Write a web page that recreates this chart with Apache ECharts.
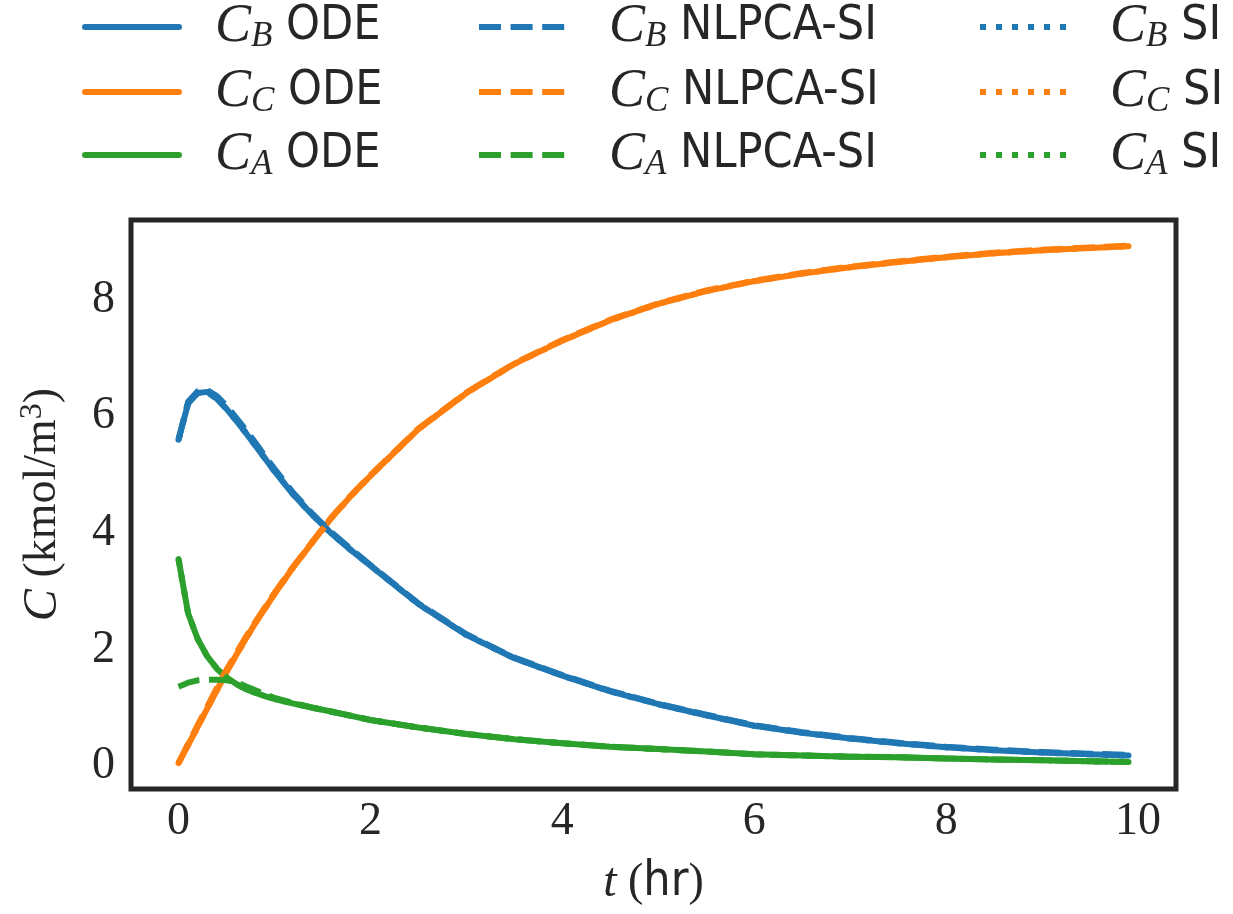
<!DOCTYPE html>
<html>
<head>
<meta charset="utf-8">
<script src="https://cdn.jsdelivr.net/npm/echarts@6/dist/echarts.min.js"></script>
<style>
html,body{margin:0;padding:0;background:#fff;}
#chart{width:1233px;height:914px;}
</style>
</head>
<body>
<div id="chart"></div>
<script>
// time grid (hr)
var tVals = [0,0.1,0.2,0.3,0.4,0.5,0.6,0.7,0.8,0.9,1.0,1.2,1.4,1.6,1.8,2.0,2.5,3.0,3.5,4.0,4.5,5.0,5.5,6.0,6.5,7.0,7.5,8.0,8.5,9.0,9.5,9.9];

// ODE
var cbOde = [5.6,6.22,6.4,6.42,6.3,6.13,5.93,5.72,5.5,5.28,5.06,4.65,4.3,3.98,3.7,3.44,2.78,2.25,1.85,1.55,1.28,1.06,0.87,0.69,0.57,0.47,0.39,0.32,0.27,0.23,0.2,0.18];
var ccOde = [0.05,0.36,0.67,0.99,1.3,1.61,1.9,2.18,2.45,2.7,2.95,3.42,3.85,4.27,4.64,4.98,5.78,6.4,6.9,7.3,7.65,7.93,8.15,8.32,8.45,8.56,8.65,8.73,8.8,8.85,8.89,8.92];
var caOde = [3.55,2.62,2.18,1.88,1.67,1.52,1.41,1.32,1.26,1.2,1.15,1.07,1.0,0.93,0.86,0.79,0.66,0.55,0.46,0.39,0.33,0.29,0.25,0.2,0.18,0.16,0.15,0.13,0.11,0.1,0.08,0.07];

// NLPCA-SI
var cbNl = [5.6,6.25,6.43,6.45,6.35,6.18,5.98,5.77,5.55,5.32,5.1,4.68,4.32,4.0,3.72,3.45,2.79,2.26,1.86,1.56,1.29,1.07,0.88,0.7,0.58,0.48,0.4,0.33,0.28,0.24,0.21,0.19];
var ccNl = [0.05,0.38,0.7,1.02,1.34,1.65,1.93,2.21,2.47,2.72,2.97,3.43,3.86,4.28,4.65,4.99,5.79,6.41,6.91,7.31,7.66,7.94,8.16,8.33,8.46,8.57,8.66,8.74,8.81,8.86,8.9,8.93];
var caNl = [1.36,1.43,1.47,1.48,1.48,1.47,1.44,1.37,1.3,1.23,1.17,1.08,1.0,0.93,0.86,0.79,0.66,0.55,0.46,0.39,0.33,0.29,0.25,0.2,0.18,0.16,0.15,0.13,0.11,0.1,0.08,0.07];

// SI (on top of the ODE curves)
var cbSi = [5.6,6.22,6.4,6.42,6.3,6.13,5.93,5.72,5.5,5.28,5.06,4.65,4.3,3.98,3.7,3.44,2.78,2.25,1.85,1.55,1.28,1.06,0.87,0.69,0.57,0.47,0.39,0.32,0.27,0.23,0.2,0.18];
var ccSi = [0.05,0.36,0.67,0.99,1.3,1.61,1.9,2.18,2.45,2.7,2.95,3.42,3.85,4.27,4.64,4.98,5.78,6.4,6.9,7.3,7.65,7.93,8.15,8.32,8.45,8.56,8.65,8.73,8.8,8.85,8.89,8.92];
var caSi = [3.55,2.62,2.18,1.88,1.67,1.52,1.41,1.32,1.26,1.2,1.15,1.07,1.0,0.93,0.86,0.79,0.66,0.55,0.46,0.39,0.33,0.29,0.25,0.2,0.18,0.16,0.15,0.13,0.11,0.1,0.08,0.07];

var xTicks = [0,2,4,6,8,10];
var yTicks = [0,2,4,6,8];

var BLUE = '#1f77b4', ORANGE = '#ff7f0e', GREEN = '#2ca02c';
var INK = '#262626';
var SERIF = "'Liberation Serif', 'DejaVu Serif', serif";
var SANS = "'Liberation Sans Narrow', 'DejaVu Sans Condensed', 'DejaVu Sans', sans-serif";
var DASH = [22, 9.6], DOT = [6, 10];

function mkLine(name, ys, color, type) {
    return {
        name: name,
        type: 'line',
        data: tVals.map(function (t, i) { return [t, ys[i]]; }),
        symbol: 'none',
        showSymbol: false,
        silent: true,
        animation: false,
        itemStyle: {color: color},
        lineStyle: {color: color, width: 6, type: type, cap: type === 'solid' ? 'round' : 'butt', join: 'round'}
    };
}

var series = [
    mkLine('C_B ODE', cbOde, BLUE, 'solid'),
    mkLine('C_C ODE', ccOde, ORANGE, 'solid'),
    mkLine('C_A ODE', caOde, GREEN, 'solid'),
    mkLine('C_B NLPCA-SI', cbNl, BLUE, DASH),
    mkLine('C_C NLPCA-SI', ccNl, ORANGE, DASH),
    mkLine('C_A NLPCA-SI', caNl, GREEN, DASH),
    mkLine('C_B SI', cbSi, BLUE, DOT),
    mkLine('C_C SI', ccSi, ORANGE, DOT),
    mkLine('C_A SI', caSi, GREEN, DOT)
];

var legendRich = {
    c: {fontFamily: SERIF, fontStyle: 'italic', fontSize: 54, lineHeight: 54, color: INK, verticalAlign: 'middle'},
    s: {fontFamily: SERIF, fontStyle: 'italic', fontSize: 35, lineHeight: 30, color: INK, verticalAlign: 'bottom'},
    t: {fontFamily: SANS, fontSize: 48, lineHeight: 54, color: INK, verticalAlign: 'middle'}
};

// one legend per entry, 3 columns x 3 rows
var colLeft = [82, 476, 977];
var rowTop = [0, 65, 128];
var legends = [];
series.forEach(function (s, i) {
    var ls = s.lineStyle;
    legends.push({
        data: [s.name],
        left: colLeft[Math.floor(i / 3)],
        top: rowTop[i % 3],
        padding: 0,
        itemWidth: 94,
        itemHeight: 54,
        selectedMode: false,
        itemStyle: {opacity: 0},
        lineStyle: {color: ls.color, width: 6, type: ls.type, cap: ls.cap, opacity: 1},
        formatter: function (name) {
            return name.replace(/^C_(\w) (.*)$/, '{c|C}{s|$1}{t| $2}');
        },
        textStyle: {padding: [0, 0, 0, 31], rich: legendRich}
    });
});

var chart = echarts.init(document.getElementById('chart'), null, {renderer: 'canvas'});
chart.setOption({
    backgroundColor: '#ffffff',
    animation: false,
    legend: legends,
    grid: {left: 131, top: 220, width: 1045, height: 569, show: true, borderColor: INK, borderWidth: 5, backgroundColor: 'transparent'},
    xAxis: {
        type: 'value',
        min: -0.495,
        max: 10.395,
        axisLine: {show: false},
        axisTick: {show: false},
        splitLine: {show: false},
        axisLabel: {customValues: xTicks, fontFamily: SERIF, fontSize: 46, color: INK, margin: 10},
        name: '{i|t} ({h|hr})',
        nameLocation: 'middle',
        nameGap: 68,
        nameTextStyle: {
            color: INK,
            rich: {
                i: {fontFamily: SERIF, fontStyle: 'italic', fontSize: 48, lineHeight: 52, color: INK},
                h: {fontFamily: SANS, fontSize: 48, lineHeight: 52, color: INK}
            },
            fontFamily: SERIF,
            fontSize: 46,
            lineHeight: 52
        }
    },
    yAxis: {
        type: 'value',
        min: -0.395,
        max: 9.37,
        axisLine: {show: false},
        axisTick: {show: false},
        splitLine: {show: false},
        axisLabel: {customValues: yTicks, fontFamily: SERIF, fontSize: 46, color: INK, margin: 16},
        name: '{i|C} (kmol/m{p|3})',
        nameLocation: 'middle',
        nameRotate: 90,
        nameGap: 62,
        nameTextStyle: {
            color: INK,
            fontFamily: SERIF,
            fontSize: 46,
            lineHeight: 52,
            rich: {
                i: {fontFamily: SERIF, fontStyle: 'italic', fontSize: 48, lineHeight: 52, color: INK},
                p: {fontFamily: SERIF, fontSize: 32, lineHeight: 30, color: INK, verticalAlign: 'top'}
            }
        }
    },
    series: series
});
</script>
</body>
</html>
